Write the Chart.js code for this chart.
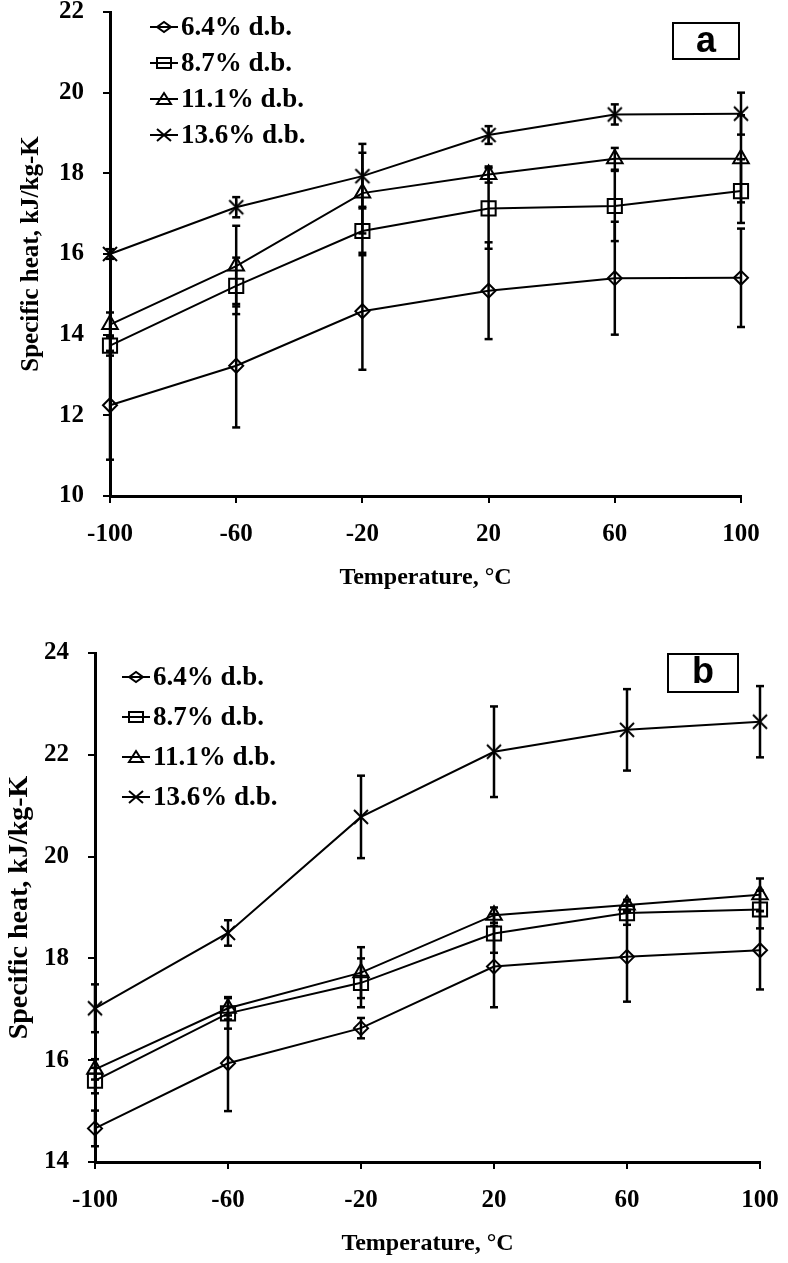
<!DOCTYPE html>
<html>
<head>
<meta charset="utf-8">
<script src="https://cdn.jsdelivr.net/npm/chart.js@4.4.1/dist/chart.umd.min.js"></script>
<style>
  body { margin: 0; background: #fff; }
  #page { position: relative; width: 788px; height: 1263px; overflow: hidden; background: #fff; }
  .panel { position: absolute; left: 0; width: 788px; }
  .tag {
    position: absolute; box-sizing: border-box; border: 2.5px solid #000;
    font: bold 36px "Liberation Sans", Arial, sans-serif; color: #000;
    text-align: center; line-height: 32px;
  }
</style>
</head>
<body>
<div id="page">
  <div class="panel" style="top:0;height:600px"><canvas id="chartA"></canvas></div>
  <div class="panel" style="top:600px;height:663px"><canvas id="chartB"></canvas></div>
  <div class="tag" style="left:672px;top:22px;width:68px;height:38px">a</div>
  <div class="tag" style="left:667px;top:653px;width:72px;height:40px">b</div>
</div>
<script>
// temperatures (°C) and series names
const temps = [-100, -60, -20, 20, 60, 100];
const xTicks = [-100, -60, -20, 20, 60, 100];
const yTicksA = [10, 12, 14, 16, 18, 20, 22];
const yTicksB = [14, 16, 18, 20, 22, 24];
const seriesNames = ['6.4% d.b.', '8.7% d.b.', '11.1% d.b.', '13.6% d.b.'];

// panel a - specific heat, kJ/kg-K
const a64 = [12.25, 13.23, 14.58, 15.09, 15.40, 15.41];
const a87 = [13.73, 15.21, 16.57, 17.13, 17.19, 17.56];
const a111 = [14.25, 15.70, 17.51, 17.97, 18.36, 18.36];
const a136 = [16.00, 17.16, 17.93, 18.95, 19.46, 19.48];
const a64Err = [1.35, 1.53, 1.45, 1.20, 1.40, 1.22];
const a87Err = [0.25, 0.70, 0.60, 1.00, 0.87, 0.79];
const a111Err = [0.30, 1.00, 1.00, 0.20, 0.27, 1.08];
const a136Err = [0.12, 0.25, 0.80, 0.22, 0.25, 0.52];

// panel b
const b64 = [14.66, 15.94, 16.63, 17.84, 18.03, 18.16];
const b87 = [15.60, 16.92, 17.52, 18.49, 18.89, 18.96];
const b111 = [15.82, 17.02, 17.72, 18.85, 19.05, 19.25];
const b136 = [17.02, 18.50, 20.78, 22.06, 22.49, 22.65];
const b64Err = [0.35, 0.94, 0.20, 0.80, 0.88, 0.77];
const b87Err = [0.25, 0.30, 0.48, 0.38, 0.23, 0.37];
const b111Err = [0.20, 0.22, 0.50, 0.15, 0.10, 0.32];
const b136Err = [0.47, 0.25, 0.81, 0.89, 0.80, 0.70];

const serif = '"Liberation Serif", "Times New Roman", serif';

// asterisk marker (x plus vertical stroke), like the spreadsheet one
function asteriskImage() {
  const c = document.createElement('canvas');
  c.width = 20; c.height = 20;
  const g = c.getContext('2d');
  g.strokeStyle = '#000'; g.lineWidth = 2;
  g.beginPath();
  g.moveTo(3, 3); g.lineTo(17, 17);
  g.moveTo(17, 3); g.lineTo(3, 17);
  g.moveTo(10, 2); g.lineTo(10, 18);
  g.stroke();
  return c;
}
const asterisk = asteriskImage();

const markers = [
  {style: 'rectRot', radius: 7, legend: 'diamond'},
  {style: 'rect', radius: 10, legend: 'square'},
  {style: 'triangle', radius: 9, legend: 'triangle'},
  {style: asterisk, radius: 10, legend: 'cross'},
];

function pts(vals) {
  return temps.map((t, i) => ({x: t, y: vals[i]}));
}

function errPts(vals, errs) {
  const out = [];
  temps.forEach((t, i) => {
    out.push({x: t, y: vals[i] - errs[i]}, {x: t, y: vals[i] + errs[i]}, {x: t, y: null});
  });
  return out;
}

function buildDatasets(series, errs) {
  const sets = [];
  series.forEach((vals, k) => {
    sets.push({
      isError: true,
      data: errPts(vals, errs[k]),
      borderColor: '#000',
      borderWidth: 2.5,
      pointStyle: 'line',
      pointRadius: 4,
      pointBorderWidth: 2.5,
      pointBorderColor: '#000',
      spanGaps: false,
      clip: false,
    });
  });
  series.forEach((vals, k) => {
    sets.push({
      label: seriesNames[k],
      marker: markers[k].legend,
      data: pts(vals),
      borderColor: '#000',
      borderWidth: 2,
      pointStyle: markers[k].style,
      pointRadius: markers[k].radius,
      pointBorderWidth: 2,
      pointBorderColor: '#000',
      pointBackgroundColor: 'rgba(0,0,0,0)',
      tension: 0,
      clip: false,
    });
  });
  return sets;
}

function drawMarker(ctx, kind, x, y) {
  ctx.beginPath();
  if (kind === 'diamond') {
    ctx.moveTo(x - 7, y); ctx.lineTo(x, y - 5); ctx.lineTo(x + 7, y); ctx.lineTo(x, y + 5); ctx.closePath();
  } else if (kind === 'square') {
    ctx.rect(x - 7, y - 5, 14, 10);
  } else if (kind === 'triangle') {
    ctx.moveTo(x, y - 6); ctx.lineTo(x + 7, y + 5); ctx.lineTo(x - 7, y + 5); ctx.closePath();
  } else {
    ctx.moveTo(x - 7, y - 6); ctx.lineTo(x + 7, y + 6);
    ctx.moveTo(x + 7, y - 6); ctx.lineTo(x - 7, y + 6);
  }
  ctx.stroke();
}

// legend drawn inside the plot area, one entry per line
const insideLegend = {
  id: 'insideLegend',
  afterDatasetsDraw(chart, args, opts) {
    const ctx = chart.ctx;
    ctx.save();
    ctx.font = 'bold ' + opts.size + 'px ' + serif;
    ctx.textBaseline = 'middle';
    ctx.fillStyle = '#000';
    ctx.strokeStyle = '#000';
    ctx.lineWidth = 2;
    chart.data.datasets.filter(d => !d.isError).forEach((d, i) => {
      const y = opts.y + i * opts.gap;
      ctx.beginPath();
      ctx.moveTo(opts.x, y); ctx.lineTo(opts.x + 28, y);
      ctx.stroke();
      drawMarker(ctx, d.marker, opts.x + 14, y);
      ctx.fillText(d.label, opts.x + 31, y + 1);
    });
    ctx.restore();
  }
};

function makeChart(id, series, errs, cfg) {
  return new Chart(id, {
    type: 'line',
    data: {datasets: buildDatasets(series, errs)},
    plugins: [insideLegend],
    options: {
      responsive: true,
      maintainAspectRatio: false,
      animation: false,
      layout: {padding: {left: 0, right: cfg.padRight, top: cfg.padTop, bottom: 0}},
      plugins: {
        legend: {display: false},
        tooltip: {enabled: false},
        insideLegend: cfg.legend,
      },
      scales: {
        x: {
          type: 'linear',
          min: -100, max: 100,
          afterBuildTicks: (s) => { s.ticks = xTicks.map(v => ({value: v})); },
          afterFit: (s) => { s.height = cfg.xHeight; s.paddingLeft = 0; s.paddingRight = 0; },
          ticks: {color: '#000', font: {family: serif, weight: 'bold', size: 25}, padding: 17, maxRotation: 0},
          grid: {drawOnChartArea: false, tickLength: 7, color: '#000', lineWidth: 2},
          border: {color: '#000', width: 3},
          title: {display: true, text: 'Temperature, °C', color: '#000',
                  font: {family: serif, weight: 'bold', size: 24}, padding: {top: 0, bottom: cfg.xTitlePad}},
        },
        y: {
          min: cfg.yTicks[0], max: cfg.yTicks[cfg.yTicks.length - 1],
          afterBuildTicks: (s) => { s.ticks = cfg.yTicks.map(v => ({value: v})); },
          afterFit: (s) => { s.width = cfg.yWidth; s.paddingTop = 0; s.paddingBottom = 0; },
          ticks: {color: '#000', font: {family: serif, weight: 'bold', size: 25}, padding: 19},
          grid: {drawOnChartArea: false, tickLength: 7, color: '#000', lineWidth: 2},
          border: {color: '#000', width: 3},
          title: {display: true, text: 'Specific heat, kJ/kg-K', color: '#000',
                  font: {family: serif, weight: 'bold', size: cfg.yTitleSize}, padding: {top: cfg.yTitlePad, bottom: 0}},
        },
      },
    },
  });
}

makeChart('chartA', [a64, a87, a111, a136], [a64Err, a87Err, a111Err, a136Err], {
  padRight: 47, padTop: 10, xHeight: 104, yWidth: 110, yTicks: yTicksA,
  xTitlePad: 8, yTitlePad: 17, yTitleSize: 25,
  legend: {x: 150, y: 27, gap: 36, size: 27},
});

makeChart('chartB', [b64, b87, b111, b136], [b64Err, b87Err, b111Err, b136Err], {
  padRight: 28, padTop: 53, xHeight: 101, yWidth: 95, yTicks: yTicksB,
  xTitlePad: 5, yTitlePad: 3, yTitleSize: 28,
  legend: {x: 122, y: 77, gap: 40, size: 27},
});
</script>
</body>
</html>
